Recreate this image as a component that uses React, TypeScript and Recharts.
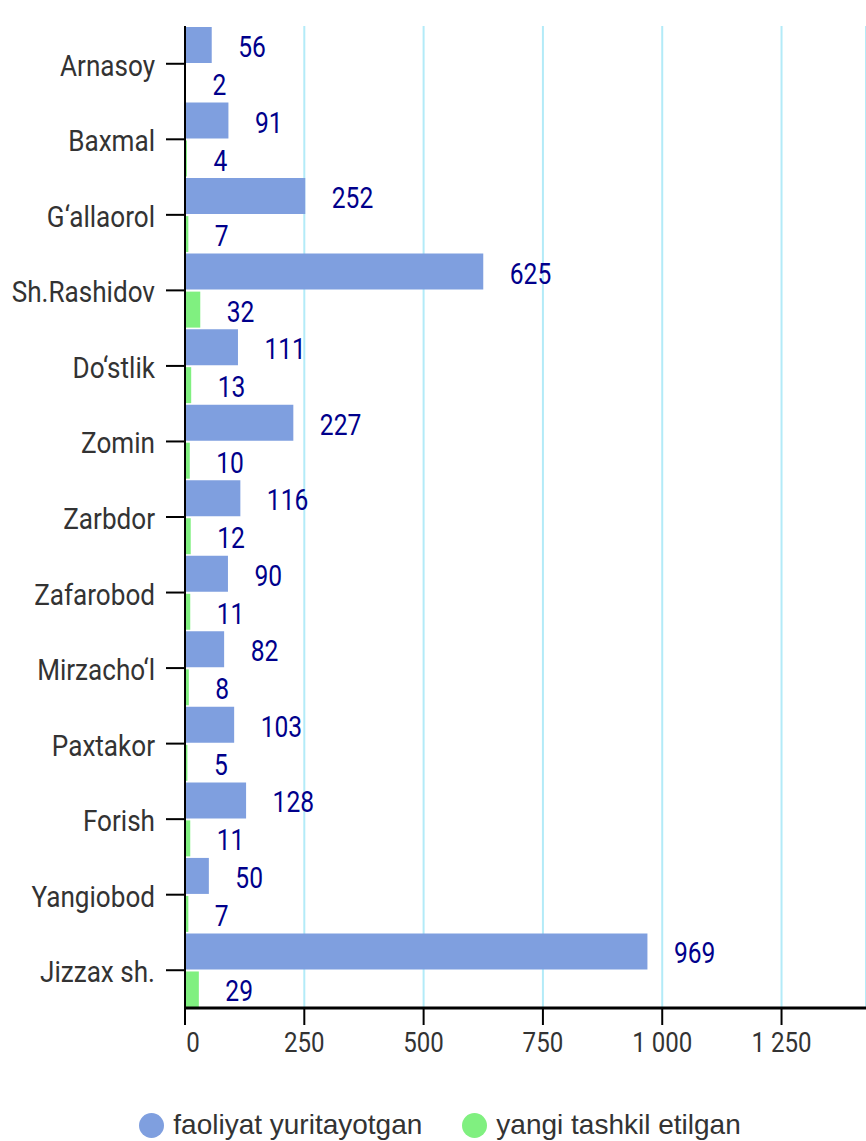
import React from 'react';
import {
  BarChart,
  Bar,
  XAxis,
  YAxis,
  CartesianGrid,
  Legend,
  LabelList,
} from 'recharts';

const districts = [
  'Arnasoy',
  'Baxmal',
  'G‘allaorol',
  'Sh.Rashidov',
  'Do‘stlik',
  'Zomin',
  'Zarbdor',
  'Zafarobod',
  'Mirzacho‘l',
  'Paxtakor',
  'Forish',
  'Yangiobod',
  'Jizzax sh.',
];
const active = [56, 91, 252, 625, 111, 227, 116, 90, 82, 103, 128, 50, 969];
const newlyCreated = [2, 4, 7, 32, 13, 10, 12, 11, 8, 5, 11, 7, 29];
const xTicks = [0, 250, 500, 750, 1000, 1250];

const seriesActive = 'faoliyat yuritayotgan';
const seriesNew = 'yangi tashkil etilgan';

const data = districts.map((name, i) => ({
  name,
  active: active[i],
  created: newlyCreated[i],
}));

const FONT = 'Roboto, sans-serif';

// thousands separated by a space: 1 000
const fmt = (v: number) => String(v).replace(/\B(?=(\d{3})+(?!\d))/g, ' ');

// Roboto squeezed sideways to look like the condensed face of the original
const CategoryTick = ({ x, y, payload }: any) => (
  <g transform={`translate(${x},${y})`}>
    <text transform="scale(0.87,1)" textAnchor="end" dy={12} fill="#333" fontSize={30} fontFamily={FONT}>
      {payload.value}
    </text>
  </g>
);

const ValueTick = ({ x, y, payload }: any) => (
  <g transform={`translate(${x + (payload.value === 0 ? 8 : 0)},${y})`}>
    <text transform="scale(0.86,1)" textAnchor="middle" dy={23} fill="#333" fontSize={28} fontFamily={FONT}>
      {fmt(payload.value)}
    </text>
  </g>
);

const ValueLabel = (props: any) => {
  const { x, y, width, height, value } = props;
  return (
    <g transform={`translate(${Number(x) + Number(width) + 26.5},${Number(y) + Number(height) / 2})`}>
      <text transform="scale(0.82,1)" textAnchor="start" dy={12} fill="#00008b" fontSize={30} fontFamily={FONT}>
        {value}
      </text>
    </g>
  );
};

const LegendContent = ({ payload }: any) => (
  <div
    style={{
      display: 'flex',
      justifyContent: 'center',
      alignItems: 'center',
      height: 32,
      paddingLeft: 14,
      fontFamily: '"Liberation Sans", Arial, sans-serif',
      fontSize: 28,
      color: '#333',
    }}
  >
    {(payload || []).map((entry: any) => (
      <div key={entry.value} style={{ display: 'flex', alignItems: 'center', margin: '0 20px' }}>
        <span
          style={{
            width: 25,
            height: 25,
            borderRadius: '50%',
            background: entry.color,
            marginRight: 9,
            display: 'inline-block',
          }}
        />
        <span>{entry.value}</span>
      </div>
    ))}
  </div>
);

export default function App() {
  return (
    <div style={{ position: 'absolute', left: 0, top: 0, width: 866, height: 1141, background: '#fff' }}>
      <BarChart
        width={866}
        height={1141}
        data={data}
        layout="vertical"
        margin={{ top: 26, right: 0, left: 0, bottom: 0 }}
        barSize={36}
        barGap={2}
      >
        <CartesianGrid horizontal={false} stroke="#b3ebf8" strokeWidth={2} />
        <XAxis
          type="number"
          domain={[0, 1427]}
          ticks={xTicks}
          allowDataOverflow
          height={101}
          tickSize={17}
          tickMargin={4}
          axisLine={{ stroke: '#000', strokeWidth: 3 }}
          tickLine={{ stroke: '#000', strokeWidth: 2 }}
          tick={<ValueTick />}
        />
        <YAxis
          type="category"
          dataKey="name"
          width={185}
          tickSize={19}
          tickMargin={11}
          axisLine={{ stroke: '#000', strokeWidth: 2 }}
          tickLine={{ stroke: '#000', strokeWidth: 2 }}
          tick={<CategoryTick />}
          interval={0}
        />
        <Legend verticalAlign="bottom" content={<LegendContent />} />
        <Bar dataKey="active" name={seriesActive} fill="#7f9fdf" isAnimationActive={false}>
          <LabelList dataKey="active" content={<ValueLabel />} />
        </Bar>
        <Bar dataKey="created" name={seriesNew} fill="#80f080" isAnimationActive={false}>
          <LabelList dataKey="created" content={<ValueLabel />} />
        </Bar>
      </BarChart>
    </div>
  );
}
